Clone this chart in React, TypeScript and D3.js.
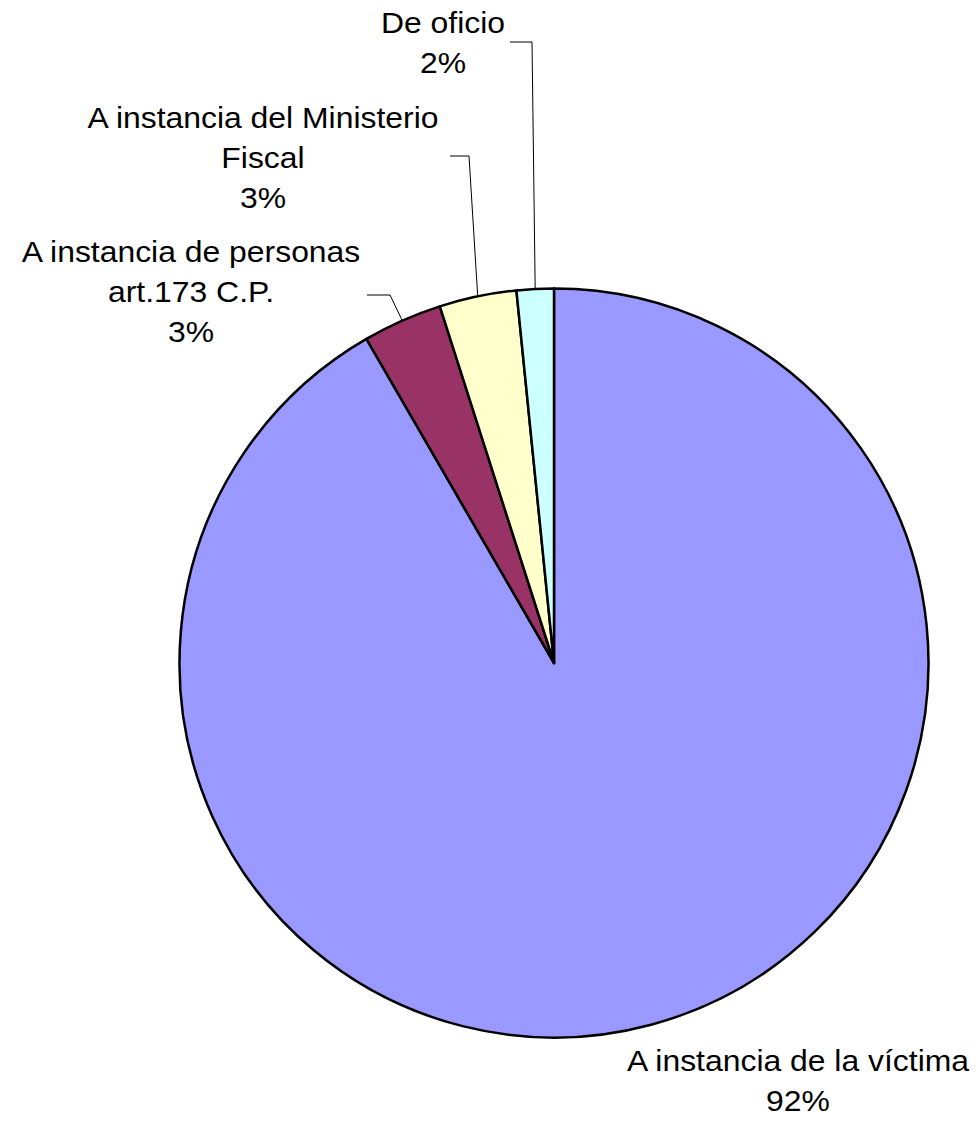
import { pie, arc, PieArcDatum, format } from "d3";

// categories clockwise from 12 o'clock
const categories = [
  "A instancia de la víctima",
  "A instancia de personas art.173 C.P.",
  "A instancia del Ministerio Fiscal",
  "De oficio",
];
const labelLines = [
  ["A instancia de la víctima"],
  ["A instancia de personas", "art.173 C.P."],
  ["A instancia del Ministerio", "Fiscal"],
  ["De oficio"],
];
const values = [91.65, 3.42, 3.33, 1.6];
const colors = ["#9999FF", "#993366", "#FFFFCC", "#CCFFFF"];

// label placement (hand-moved in the original chart)
const labelLayout = [
  { x: 798, y: 1071, elbow: null as null | [number, number], end: 0 },
  { x: 191, y: 262, elbow: [390, 295] as [number, number], end: 367 },
  { x: 263, y: 128, elbow: [469, 156] as [number, number], end: 450 },
  { x: 443, y: 33, elbow: [532, 42] as [number, number], end: 510 },
];

const W = 979;
const H = 1123;
const cx = 554;
const cy = 663;
const R = 374.5;
const lineH = 40;

type Row = { name: string; value: number; i: number };
const rows: Row[] = categories.map((name, i) => ({ name, value: values[i], i }));

export default function App() {
  const total = values.reduce((a, b) => a + b, 0);
  const pct = format(".0%");
  const arcs = pie<Row>()
    .sort(null)
    .value((d) => d.value)
    .startAngle(0)
    .endAngle(2 * Math.PI)(rows);
  const arcGen = arc<PieArcDatum<Row>>().innerRadius(0).outerRadius(R);

  return (
    <div style={{ position: "absolute", left: 0, top: 0, width: W, height: H, background: "#fff" }}>
      <svg width={W} height={H} style={{ display: "block" }}>
        <g transform={`translate(${cx},${cy})`}>
          {arcs.map((a, i) => (
            <path
              key={i}
              d={arcGen(a) ?? ""}
              fill={colors[i]}
              stroke="#000"
              strokeWidth={2.5}
              strokeLinejoin="round"
            />
          ))}
        </g>

        {/* Leader lines */}
        {arcs.map((a, i) => {
          const lay = labelLayout[i];
          if (!lay.elbow) return null;
          const mid = (a.startAngle + a.endAngle) / 2;
          const px = cx + R * Math.sin(mid);
          const py = cy - R * Math.cos(mid);
          return (
            <polyline
              key={i}
              points={`${px},${py} ${lay.elbow[0]},${lay.elbow[1]} ${lay.end},${lay.elbow[1]}`}
              fill="none"
              stroke="#000"
              strokeWidth={1}
            />
          );
        })}

        {/* Labels */}
        {rows.map((r, i) => {
          const lay = labelLayout[i];
          const lines = [...labelLines[i], pct(r.value / total)];
          return (
            <g key={i} fontFamily="'Liberation Sans', Arial, sans-serif" fontSize={29} fill="#000">
              {lines.map((t, k) => (
                <text
                  key={k}
                  transform={`translate(${lay.x},${lay.y + k * lineH}) scale(1.1,1)`}
                  textAnchor="middle"
                >
                  {t}
                </text>
              ))}
            </g>
          );
        })}
      </svg>
    </div>
  );
}
